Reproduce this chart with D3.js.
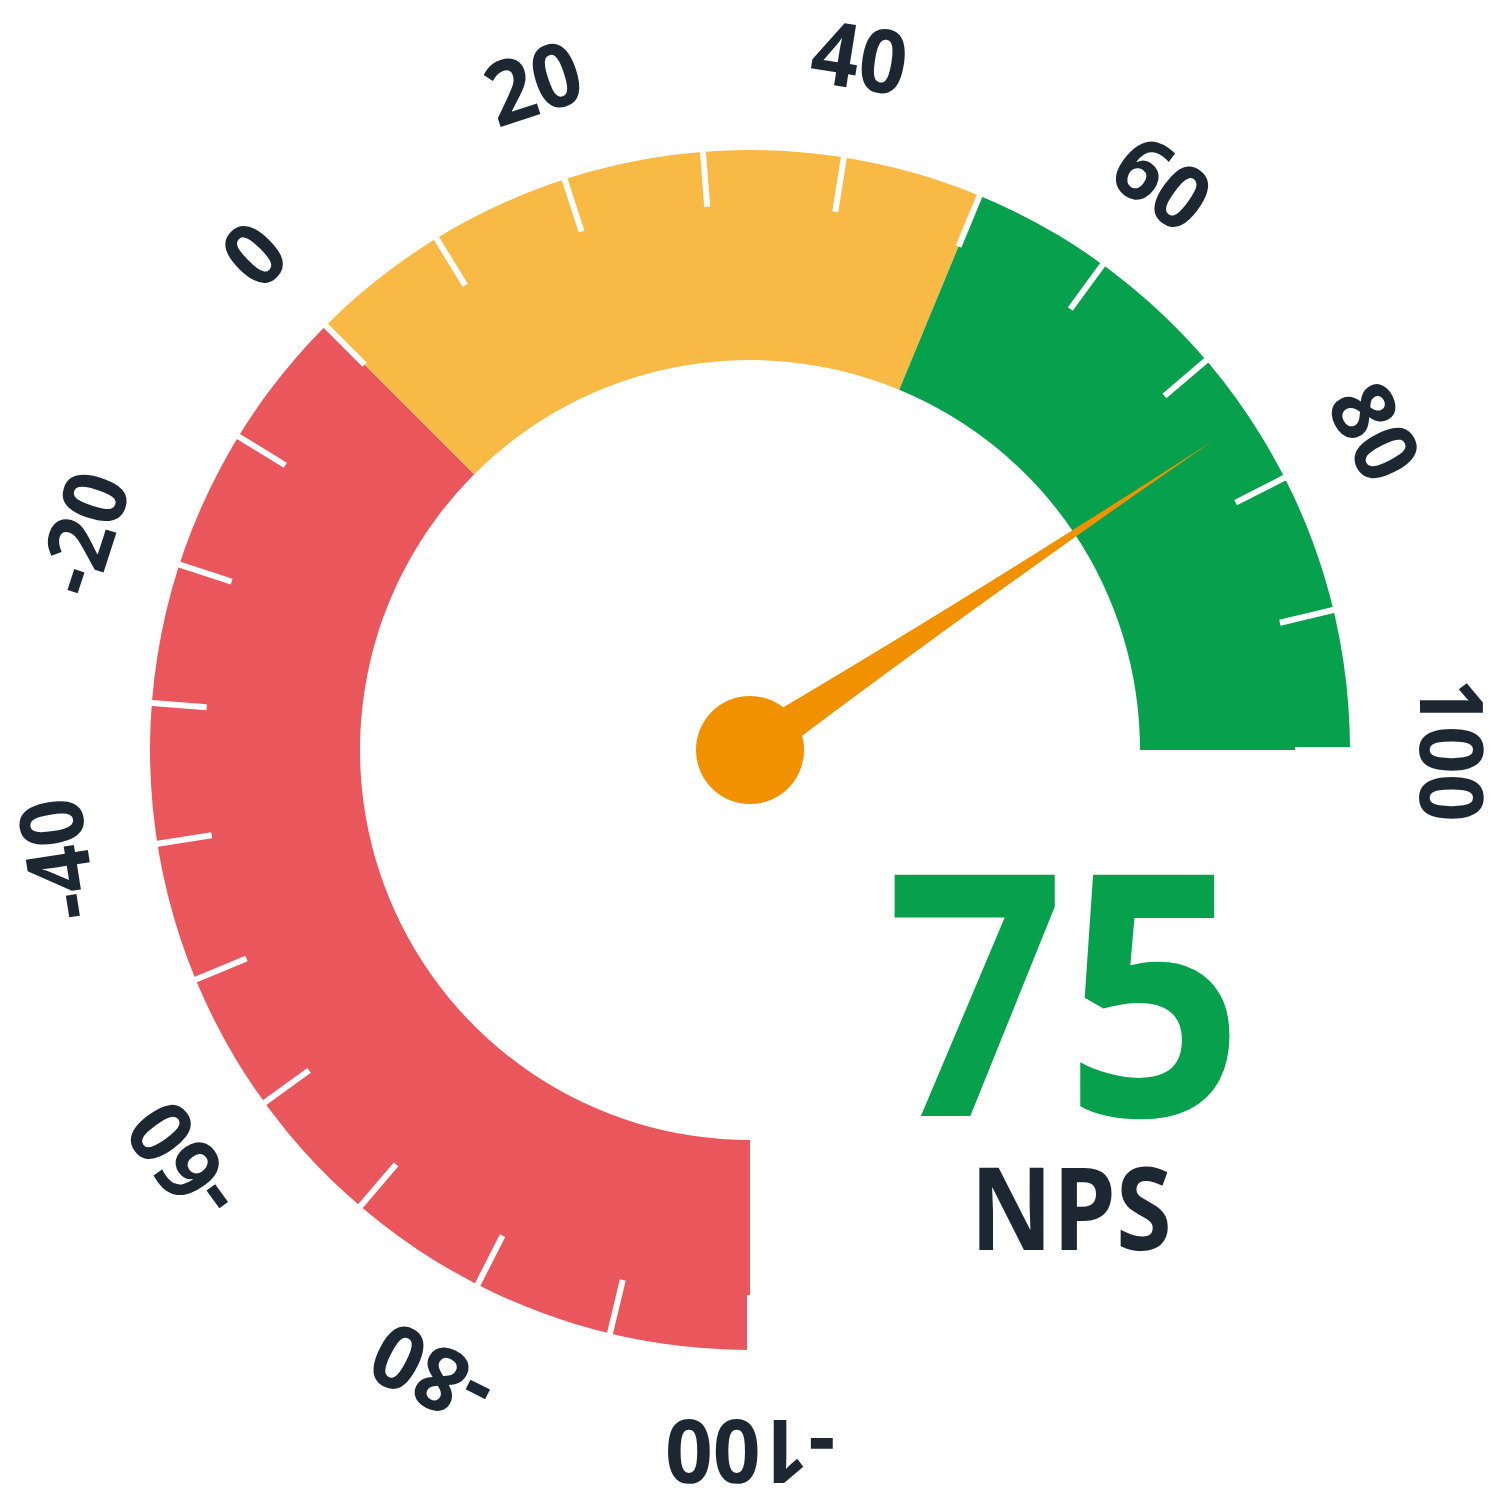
<!DOCTYPE html>
<html>
<head>
<meta charset="utf-8">
<script src="https://cdn.jsdelivr.net/npm/d3@7"></script>
<style>
  body { margin: 0; background: #fff; }
  #gauge { width: 1500px; height: 1500px; }
</style>
</head>
<body>
<div id="gauge"></div>
<script>
// Gauge data
const bandStarts = [-100, 0, 50];
const bandEnds = [0, 50, 100];
const bandColors = ["#e9565c", "#f8b945", "#07a04c"];
const tickValues = d3.range(-100, 101, 10);
const labelValues = [-100, -80, -60, -40, -20, 0, 20, 40, 60, 80, 100];
const score = 75;
const scoreLabel = "NPS";

const width = 1500;
const height = 1500;
const cx = 750;
const cy = 750;
const outerR = 600;
const innerR = 390;
const font = "'Open Sans', sans-serif";

// value -> angle (d3 convention, 0 = up, clockwise)
const angle = d3.scaleLinear().domain([-100, 100]).range([Math.PI, 2.5 * Math.PI]);
const deg = (a) => (a * 180) / Math.PI;

const svg = d3
  .select("#gauge")
  .append("svg")
  .attr("width", width)
  .attr("height", height)
  .attr("viewBox", [0, 0, width, height]);

const g = svg.append("g").attr("transform", `translate(${cx},${cy})`);

const arc = d3.arc().innerRadius(innerR).outerRadius(outerR);

// colour bands
g.selectAll(".band")
  .data(bandStarts.map((s, i) => ({ start: s, end: bandEnds[i], color: bandColors[i] })))
  .join("path")
  .attr("class", "band")
  .attr("d", (d) => arc({ startAngle: angle(d.start), endAngle: angle(d.end) }))
  .attr("fill", (d) => d.color);

// white ticks
g.selectAll(".tick")
  .data(tickValues)
  .join("line")
  .attr("class", "tick")
  .attr("x1", (d) => 545 * Math.sin(angle(d)))
  .attr("y1", (d) => -545 * Math.cos(angle(d)))
  .attr("x2", (d) => 603 * Math.sin(angle(d)))
  .attr("y2", (d) => -603 * Math.cos(angle(d)))
  .attr("stroke", "#fff")
  .attr("stroke-width", 6);

// labels around the rim
g.selectAll(".label")
  .data(labelValues)
  .join("text")
  .attr("class", "label")
  .attr("transform", (d) => {
    const a = angle(d);
    return `translate(${704 * Math.sin(a)},${-704 * Math.cos(a)}) rotate(${deg(a)}) scale(0.95,1)`;
  })
  .attr("text-anchor", "middle")
  .attr("dominant-baseline", "central")
  .attr("fill", "#1d2731")
  .style("font-family", font)
  .style("font-weight", "bold")
  .style("font-size", "88px")
  .text((d) => d);

// needle
g.append("path")
  .attr("transform", `rotate(${deg(angle(score))})`)
  .attr("d", "M -20,0 Q -5,-250 0,-555 Q 5,-250 20,0 Z")
  .attr("fill", "#f29100");

g.append("circle").attr("r", 54).attr("fill", "#f29100");

// score
svg
  .append("text")
  .attr("transform", "translate(1065,1116) scale(0.925,1)")
  .attr("text-anchor", "middle")
  .attr("fill", "#07a04c")
  .style("font-family", font)
  .style("font-weight", "bold")
  .style("font-size", "338px")
  .text(score);

svg
  .append("text")
  .attr("transform", "translate(1071,1250) scale(0.88,1)")
  .attr("text-anchor", "middle")
  .attr("fill", "#1d2731")
  .style("font-family", font)
  .style("font-weight", "bold")
  .style("font-size", "115px")
  .text(scoreLabel);
</script>
</body>
</html>
